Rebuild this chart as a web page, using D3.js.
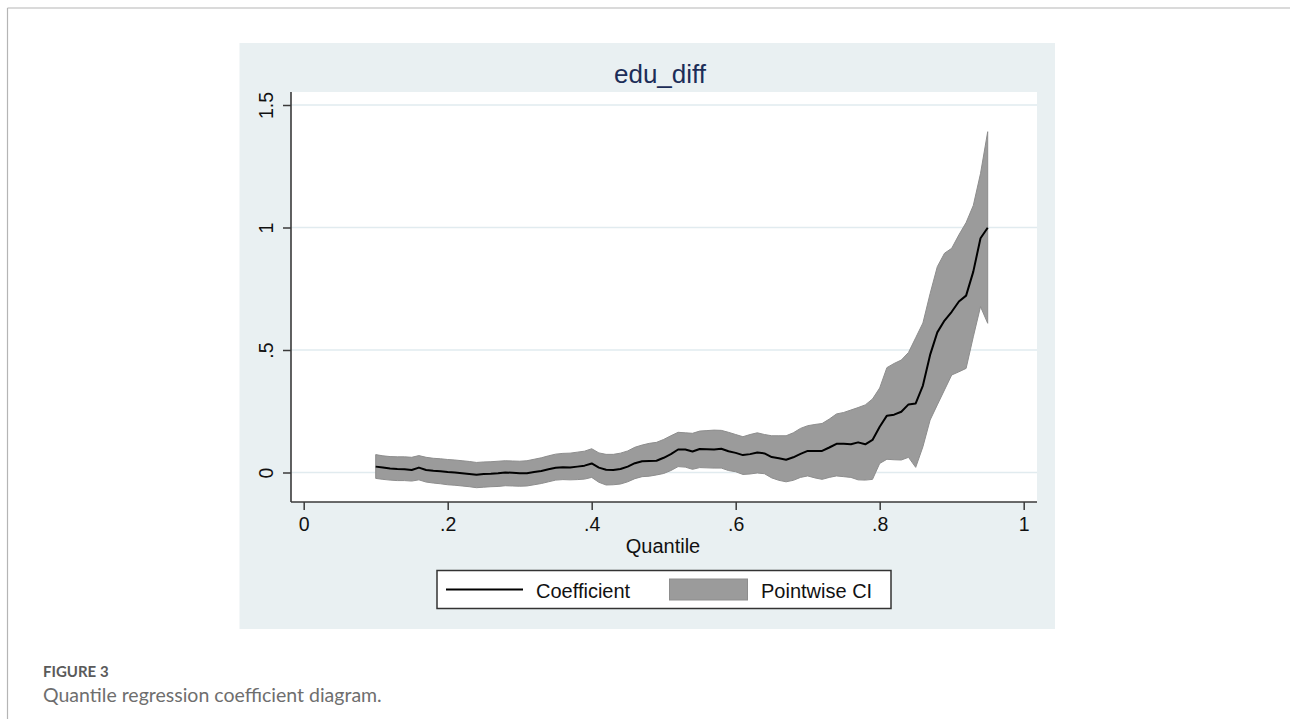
<!DOCTYPE html>
<html>
<head>
<meta charset="utf-8">
<script src="https://cdn.jsdelivr.net/npm/d3@7"></script>
<style>
  html, body { margin: 0; padding: 0; background: #ffffff; }
  svg { display: block; }
</style>
</head>
<body>
<svg id="chart" width="1290" height="719"></svg>
<script>
// Quantile grid (0.10 … 0.95 in steps of 0.01)
const quantiles = d3.range(10, 96).map(k => k / 100);

// Estimated coefficient of edu_diff at each quantile
const coefficient = [
  0.024, 0.020, 0.016, 0.014, 0.013, 0.010, 0.020, 0.010, 0.007, 0.005,
  0.002, 0.000, -0.003, -0.006, -0.009, -0.006, -0.005, -0.003, 0.000, -0.001,
  -0.003, -0.003, 0.002, 0.006, 0.013, 0.019, 0.021, 0.020, 0.024, 0.028,
  0.037, 0.020, 0.011, 0.010, 0.014, 0.024, 0.038, 0.046, 0.047, 0.048,
  0.060, 0.075, 0.094, 0.094, 0.086, 0.096, 0.095, 0.094, 0.097, 0.087,
  0.080, 0.071, 0.075, 0.082, 0.078, 0.063, 0.058, 0.052, 0.062, 0.076,
  0.088, 0.088, 0.088, 0.102, 0.117, 0.117, 0.115, 0.123, 0.115, 0.133,
  0.187, 0.232, 0.236, 0.248, 0.278, 0.282, 0.355, 0.480, 0.572, 0.620,
  0.656, 0.698, 0.722, 0.820, 0.956, 0.999
];

// Upper bound of the pointwise confidence interval
const ciUpper = [
  0.073, 0.068, 0.065, 0.064, 0.064, 0.062, 0.069, 0.062, 0.058, 0.056,
  0.053, 0.051, 0.048, 0.045, 0.041, 0.043, 0.044, 0.046, 0.048, 0.047,
  0.046, 0.048, 0.054, 0.060, 0.068, 0.075, 0.078, 0.079, 0.083, 0.087,
  0.097, 0.080, 0.074, 0.074, 0.079, 0.088, 0.103, 0.112, 0.119, 0.123,
  0.135, 0.150, 0.164, 0.162, 0.160, 0.169, 0.171, 0.173, 0.172, 0.164,
  0.155, 0.146, 0.155, 0.162, 0.155, 0.150, 0.150, 0.150, 0.162, 0.180,
  0.191, 0.196, 0.200, 0.218, 0.239, 0.245, 0.255, 0.265, 0.276, 0.300,
  0.345, 0.428, 0.445, 0.459, 0.490, 0.550, 0.610, 0.730, 0.840, 0.895,
  0.915, 0.970, 1.020, 1.090, 1.220, 1.391
];

// Lower bound of the pointwise confidence interval
const ciLower = [
  -0.024, -0.028, -0.031, -0.033, -0.033, -0.035, -0.030, -0.039, -0.043, -0.046,
  -0.050, -0.052, -0.055, -0.058, -0.062, -0.060, -0.058, -0.057, -0.054, -0.055,
  -0.056, -0.055, -0.050, -0.045, -0.038, -0.031, -0.029, -0.030, -0.029, -0.027,
  -0.020, -0.040, -0.051, -0.050, -0.047, -0.038, -0.025, -0.017, -0.015, -0.010,
  -0.004, 0.008, 0.024, 0.022, 0.013, 0.020, 0.019, 0.018, 0.018, 0.008,
  0.003, -0.008, -0.006, -0.002, -0.005, -0.022, -0.032, -0.038, -0.032, -0.020,
  -0.014, -0.022, -0.028, -0.020, -0.014, -0.017, -0.020, -0.030, -0.031, -0.028,
  0.037, 0.054, 0.052, 0.051, 0.062, 0.021, 0.105, 0.214, 0.276, 0.337,
  0.398, 0.411, 0.425, 0.554, 0.677, 0.609
];

const xTicks = [0, 0.2, 0.4, 0.6, 0.8, 1];
const xTickLabels = ["0", ".2", ".4", ".6", ".8", "1"];
const yTicks = [0, 0.5, 1, 1.5];
const yTickLabels = ["0", ".5", "1", "1.5"];

const titleText = "edu_diff";
const xTitle = "Quantile";
const legendLabels = ["Coefficient", "Pointwise CI"];
const captionHead = "FIGURE 3";
const captionText = "Quantile regression coefficient diagram.";

const rows = quantiles.map((q, i) => ({
  q, coef: coefficient[i], lo: ciLower[i], hi: ciUpper[i]
}));

const svg = d3.select("#chart");
const FONT = "'Liberation Sans', Arial, Helvetica, sans-serif";

// Page frame lines
svg.append("line").attr("x1", 7.5).attr("x2", 1290).attr("y1", 8).attr("y2", 8)
  .attr("stroke", "#b5b5b5").attr("stroke-width", 1.2);
svg.append("line").attr("x1", 7.5).attr("x2", 7.5).attr("y1", 8).attr("y2", 719)
  .attr("stroke", "#b5b5b5").attr("stroke-width", 1.2);

// Graph region background
svg.append("rect").attr("x", 239.5).attr("y", 43).attr("width", 815.5).attr("height", 586)
  .attr("fill", "#e9f0f2");

// Plot region
const plot = { left: 291, right: 1037, top: 92, bottom: 502 };
svg.append("rect").attr("x", plot.left).attr("y", plot.top)
  .attr("width", plot.right - plot.left).attr("height", plot.bottom - plot.top)
  .attr("fill", "#ffffff");

const x = d3.scaleLinear().domain([0, 1]).range([303.7, 1023.7]);
const y = d3.scaleLinear().domain([0, 1.5]).range([472.5, 105]);

// Horizontal grid lines
svg.append("g").selectAll("line").data(yTicks).join("line")
  .attr("x1", plot.left).attr("x2", plot.right)
  .attr("y1", d => y(d)).attr("y2", d => y(d))
  .attr("stroke", "#e1ebef").attr("stroke-width", 1.5);

// Confidence band
const band = d3.area()
  .x(d => x(d.q)).y0(d => y(d.lo)).y1(d => y(d.hi))
  .curve(d3.curveLinear);
svg.append("path").datum(rows).attr("d", band)
  .attr("fill", "#9b9b9b").attr("stroke", "#8d8d8d").attr("stroke-width", 1);

// Coefficient line
const line = d3.line().x(d => x(d.q)).y(d => y(d.coef)).curve(d3.curveLinear);
svg.append("path").datum(rows).attr("d", line)
  .attr("fill", "none").attr("stroke", "#000000").attr("stroke-width", 2)
  .attr("stroke-linejoin", "round");

// Axes
const xAxis = svg.append("g").attr("transform", `translate(0,${plot.bottom})`)
  .call(d3.axisBottom(x).tickValues(xTicks).tickFormat((d, i) => xTickLabels[i])
    .tickSize(8).tickSizeOuter(0).tickPadding(7));
xAxis.select(".domain").attr("d", `M${plot.left},0H${plot.right}`);
const yAxis = svg.append("g").attr("transform", `translate(${plot.left},0)`)
  .call(d3.axisLeft(y).tickValues(yTicks).tickFormat((d, i) => yTickLabels[i])
    .tickSize(8).tickSizeOuter(0));
yAxis.select(".domain").attr("d", `M0,${plot.top}V${plot.bottom}`);

[xAxis, yAxis].forEach(g => {
  g.select(".domain").attr("stroke", "#3a3a3a").attr("stroke-width", 1.6);
  g.selectAll(".tick line").attr("stroke", "#3a3a3a").attr("stroke-width", 1.5);
  g.selectAll(".tick text").attr("fill", "#111").style("font-family", FONT).style("font-size", "19.5px");
});
xAxis.selectAll(".tick text").attr("dy", "0.71em");
// Rotated y tick labels, reading upwards
yAxis.selectAll(".tick text")
  .attr("x", null).attr("dy", null)
  .attr("transform", "translate(-18,0) rotate(-90)")
  .attr("text-anchor", "middle");

// Titles
svg.append("text").attr("x", 660).attr("y", 83).attr("text-anchor", "middle")
  .attr("fill", "#1c2d58").style("font-family", FONT).style("font-size", "26px")
  .text(titleText);
svg.append("text").attr("x", 663).attr("y", 553).attr("text-anchor", "middle")
  .attr("fill", "#111").style("font-family", FONT).style("font-size", "20px")
  .text(xTitle);

// Legend
const lg = svg.append("g");
lg.append("rect").attr("x", 437).attr("y", 570.5).attr("width", 454).attr("height", 38)
  .attr("fill", "#ffffff").attr("stroke", "#333").attr("stroke-width", 1.5);
lg.append("line").attr("x1", 446).attr("x2", 523).attr("y1", 589.5).attr("y2", 589.5)
  .attr("stroke", "#000").attr("stroke-width", 2);
lg.append("text").attr("x", 536).attr("y", 598).attr("fill", "#111")
  .style("font-family", FONT).style("font-size", "20px").text(legendLabels[0]);
lg.append("rect").attr("x", 669.5).attr("y", 579).attr("width", 78).attr("height", 21)
  .attr("fill", "#9b9b9b").attr("stroke", "#8d8d8d").attr("stroke-width", 1);
lg.append("text").attr("x", 761).attr("y", 598).attr("fill", "#111")
  .style("font-family", FONT).style("font-size", "20px").text(legendLabels[1]);

// Caption
svg.append("text").attr("x", 43).attr("y", 676.5).attr("fill", "#5a5a5a")
  .style("font-family", "Lato, 'Open Sans', sans-serif").style("font-size", "15px")
  .style("font-weight", 700).text(captionHead);
svg.append("text").attr("x", 43).attr("y", 701.5).attr("fill", "#6e6e6e")
  .style("font-family", "Lato, 'Open Sans', sans-serif").style("font-size", "19.5px")
  .text(captionText);
</script>
</body>
</html>
